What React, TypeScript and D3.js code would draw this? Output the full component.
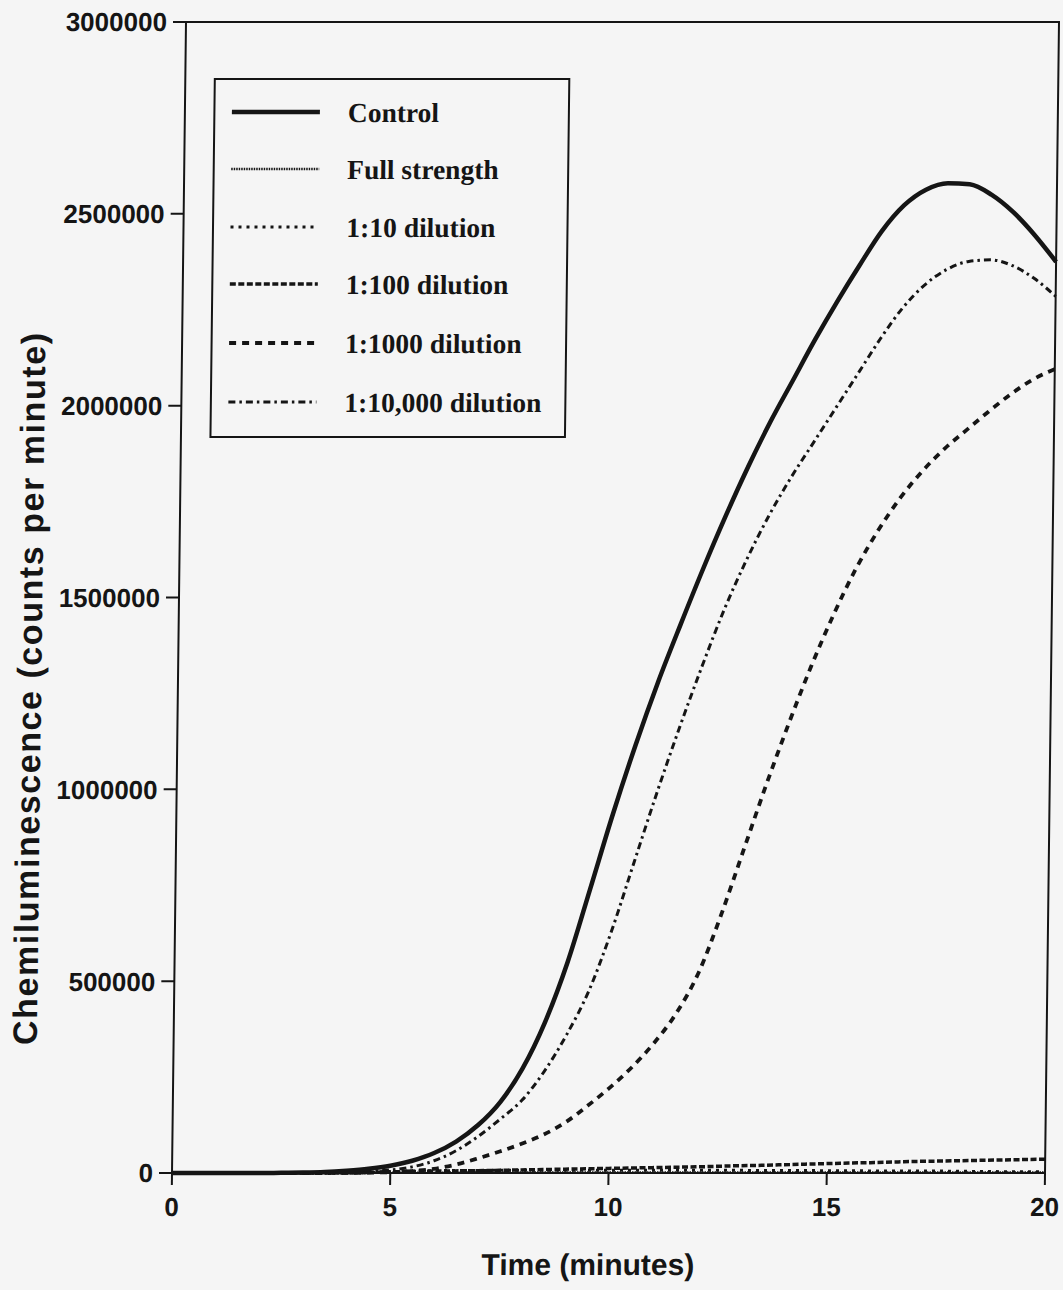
import React from "react";
import * as d3 from "d3";

const times = [0,0.5,1,1.5,2,2.5,3,3.5,4,4.5,5,5.5,6,6.5,7,7.5,8,8.5,9,9.5,10,10.5,11,11.5,12,12.5,13,13.5,14,14.5,15,15.5,16,16.5,17,17.5,18,18.5,19,19.5,20];

const control = [0,0,0,0,0,500,1000,2500,6000,11000,19000,32000,52000,82000,125000,185000,272000,392000,548000,740000,935000,1115000,1280000,1430000,1575000,1712000,1840000,1958000,2065000,2172000,2272000,2366000,2455000,2522000,2563000,2580000,2577000,2550000,2505000,2445000,2375000];
const fullStrength = [0,0,0,0,0,0,0,0,0,300,600,800,900,1000,1000,1000,1000,1000,1000,1000,1000,1000,1000,1000,1000,1000,1000,1000,1000,1000,1000,1000,1000,1000,1000,1000,1000,1000,1000,1000,1000];
const dil10 = [0,0,0,0,0,0,0,0,0,1000,3000,5000,6000,6500,6500,7000,7000,7000,7000,7000,7000,7000,7000,7000,7000,7000,7000,6500,6500,6500,6000,6000,5500,5500,5000,5000,4500,4000,3500,3000,3000];
const dil100 = [0,0,0,0,0,0,0,0,0,1500,3000,4000,5000,5500,6000,7000,8000,9000,10000,11000,12000,13000,14000,15000,16000,17500,19000,20000,21500,23000,24500,26000,27000,28500,30000,31000,32000,33000,34000,35000,36000];
const dil1000 = [0,0,0,0,0,0,0,0,500,1000,2000,5000,11000,22000,38000,56000,76000,100000,132000,175000,222000,275000,338000,415000,520000,670000,840000,1010000,1170000,1320000,1455000,1575000,1675000,1760000,1830000,1888000,1937000,1985000,2030000,2068000,2095000];
const dil10000 = [0,0,0,0,0,0,500,1000,2000,4000,8000,16000,32000,58000,95000,140000,190000,265000,360000,475000,630000,810000,990000,1160000,1320000,1470000,1600000,1715000,1815000,1905000,1995000,2085000,2175000,2255000,2315000,2355000,2376000,2380000,2365000,2332000,2285000];

const seriesNames = ["Control","Full strength","1:10 dilution","1:100 dilution","1:1000 dilution","1:10,000 dilution"];
const seriesValues = [control, fullStrength, dil10, dil100, dil1000, dil10000];
const seriesWidths = [4.5, 2.5, 3, 3.5, 3.8, 3];
const seriesDash = ["", "1.5 1", "3 5", "6 2.5", "7 6", "7 4 2.5 4"];

const xTicks = [0,5,10,15,20];
const yTicks = [0,500000,1000000,1500000,2000000,2500000,3000000];

const W = 1063, H = 1290;
const L = 172, R = 1045, T = 22, B = 1173;
const SKEW = -Math.atan(14 / 1151) * 180 / Math.PI;
const INK = "#151515";

export default function App() {
  const x = d3.scaleLinear().domain([0, 20]).range([L, R]);
  const y = d3.scaleLinear().domain([0, 3000000]).range([B, T]);
  const line = d3.line<number>()
    .x((_, i) => x(times[i]))
    .y((d) => y(d))
    .curve(d3.curveMonotoneX);

  const legX0 = 219, legX1 = 307, legTextX = 335;
  const legRows = [112, 169, 227, 284, 343, 402];

  return (
    <svg width={W} height={H} style={{ position: "absolute", left: 0, top: 0 }} xmlns="http://www.w3.org/2000/svg">
      <rect x={0} y={0} width={W} height={H} fill="#f5f5f5" />
      <g transform={`translate(0,${B}) skewX(${SKEW}) translate(0,${-B})`}>
        {[5, 4, 3, 2, 1, 0].map((k) => (
          <path key={k} d={line(seriesValues[k]) || ""} fill="none" stroke={INK}
            strokeWidth={seriesWidths[k]} strokeDasharray={seriesDash[k] || undefined}
            strokeLinejoin="round" />
        ))}
        <rect x={L} y={T} width={R - L} height={B - T} fill="none" stroke={INK} strokeWidth={2} />
        {yTicks.map((v) => (
          <g key={v}>
            <line x1={L - 13} x2={L} y1={y(v)} y2={y(v)} stroke={INK} strokeWidth={2} />
            <text x={L - 19} y={y(v)} dy="0.36em" textAnchor="end"
              fontFamily="'Liberation Sans', Arial, sans-serif" fontWeight="bold" fontSize={26} fill={INK}>
              {v}
            </text>
          </g>
        ))}
        {xTicks.map((t) => (
          <g key={t}>
            <line x1={x(t)} x2={x(t)} y1={B} y2={B + 12} stroke={INK} strokeWidth={2} />
            <text x={x(t)} y={B + 43} textAnchor="middle"
              fontFamily="'Liberation Sans', Arial, sans-serif" fontWeight="bold" fontSize={26} fill={INK}>
              {t}
            </text>
          </g>
        ))}
        <text x={589} y={1275} textAnchor="middle"
          fontFamily="'Liberation Sans', Arial, sans-serif" fontWeight="bold" fontSize={30} fill={INK}>
          Time (minutes)
        </text>
        <text transform={`translate(23,689) rotate(-90)`} textAnchor="middle" dy="0.36em"
          textLength={712} lengthAdjust="spacing"
          fontFamily="'Liberation Sans', Arial, sans-serif" fontWeight="bold" fontSize={34} fill={INK}>
          Chemiluminescence (counts per minute)
        </text>
        <rect x={201.5} y={79} width={354.5} height={358} fill="#f5f5f5" stroke={INK} strokeWidth={2} />
        {seriesNames.map((name, k) => (
          <g key={name}>
            <line x1={legX0} x2={legX1} y1={legRows[k]} y2={legRows[k]} stroke={INK}
              strokeWidth={seriesWidths[k]} strokeDasharray={seriesDash[k] || undefined} />
            <text x={legTextX} y={legRows[k] + 10}
              fontFamily="'Liberation Serif', 'Times New Roman', serif" fontWeight="bold" fontSize={27.5} fill={INK}>
              {name}
            </text>
          </g>
        ))}
      </g>
    </svg>
  );
}
